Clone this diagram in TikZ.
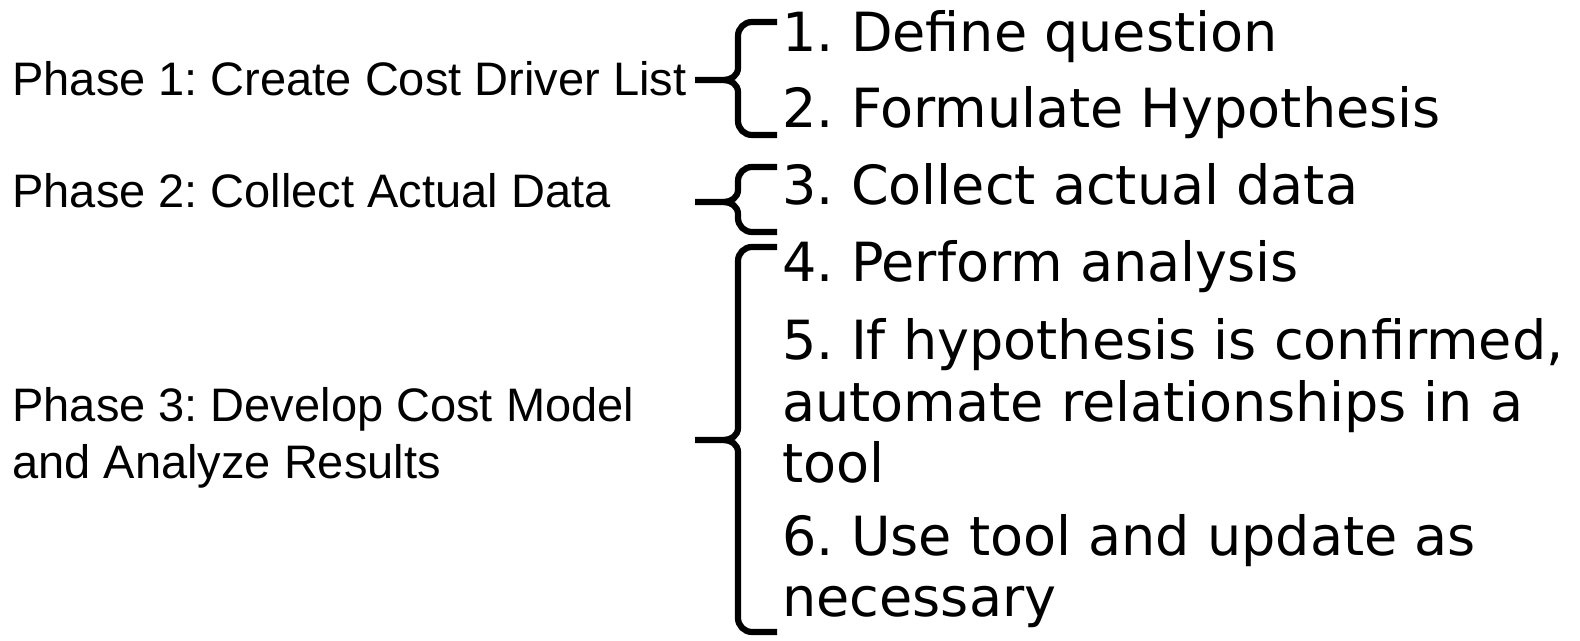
\documentclass[tikz,border=0pt]{standalone}
\usepackage{fontspec}
\setmainfont{DejaVu Sans}
\newfontfamily\phasefont{Liberation Sans}
\frenchspacing
\begin{document}
\begin{tikzpicture}[x=0.5pt,y=-0.5pt,
  phase/.style={anchor=base west, inner sep=0pt, align=left,
    font=\phasefont\fontsize{23.5}{28.5}\selectfont},
  stepitem/.style={anchor=base west, inner sep=0pt, align=left,
    font=\fontsize{27}{31}\selectfont},
  bracket/.style={line width=3.1pt}]

  \useasboundingbox (0,0) rectangle (1580,641);

  \node[phase] (phase1) at (12,96) {Phase 1: Create Cost Driver List};
  \node[phase] (phase2) at (12,208) {Phase 2: Collect Actual Data};
  \node[phase] (phase3) at (12,479) {Phase 3: Develop Cost Model\\and Analyze Results};

  \node[stepitem] (item1) at (782,52) {1. Define question};
  \node[stepitem] (item2) at (782,128) {2. Formulate Hypothesis};
  \node[stepitem] (item3) at (782,205) {3. Collect actual data};
  \node[stepitem] (item4) at (782,282) {4. Perform analysis};
  \node[stepitem] (item5) at (782,483) {5. If hypothesis is confirmed,\\automate relationships in a\\tool};
  \node[stepitem] (item6) at (782,617) {6. Use tool and update as\\necessary};

  % braces from each phase to its steps
  \draw[bracket] (777,22) [rounded corners=7pt] -- (738,22) [sharp corners] -- (738,68)
    to[out=-90,in=0] (724,80) -- (695,80);
  \draw[bracket] (777,135) [rounded corners=7pt] -- (738,135) [sharp corners] -- (738,92)
    to[out=90,in=0] (724,80);

  \draw[bracket] (777,167) [rounded corners=7pt] -- (738,167) [sharp corners] -- (738,190)
    to[out=-90,in=0] (724,202) -- (695,202);
  \draw[bracket] (777,232) [rounded corners=7pt] -- (738,232) [sharp corners] -- (738,214)
    to[out=90,in=0] (724,202);

  \draw[bracket] (777,247) [rounded corners=7pt] -- (738,247) [sharp corners] -- (738,428)
    to[out=-90,in=0] (724,440) -- (695,440);
  \draw[bracket] (777,632) [rounded corners=7pt] -- (738,632) [sharp corners] -- (738,452)
    to[out=90,in=0] (724,440);

\end{tikzpicture}
\end{document}
